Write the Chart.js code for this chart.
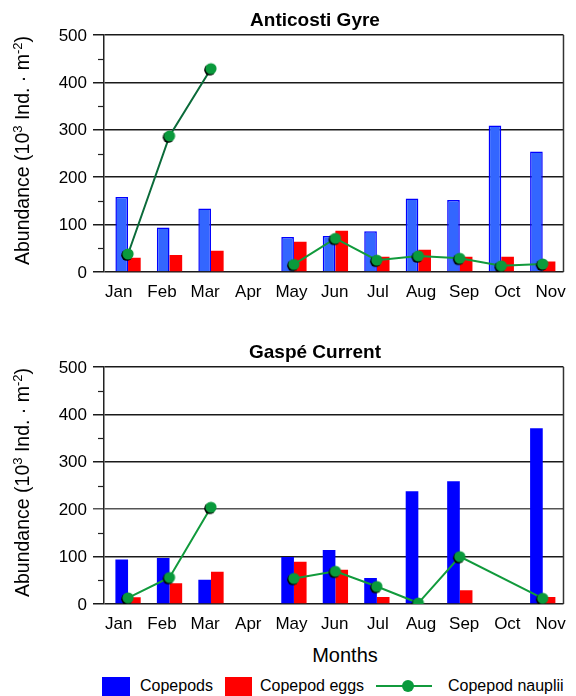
<!DOCTYPE html>
<html>
<head>
<meta charset="utf-8">
<script src="https://cdn.jsdelivr.net/npm/chart.js@4.4.1/dist/chart.umd.min.js"></script>
<style>
  html, body { margin: 0; padding: 0; background: #fff; }
  body { width: 576px; height: 696px; position: relative; overflow: hidden; font-family: 'Liberation Sans', Arial, sans-serif; color: #000; }
  canvas { position: absolute; left: 0; }
  .t { position: absolute; white-space: nowrap; text-align: center; }
  .title { font-weight: bold; font-size: 19px; line-height: 24px; width: 300px; }
  .leg { position: absolute; font-size: 16px; line-height: 20px; white-space: nowrap; }
  .box { position: absolute; }
</style>
</head>
<body>
<canvas id="c1" width="576" height="310" style="top:0px"></canvas>
<canvas id="c2" width="576" height="310" style="top:332px"></canvas>
<div class="t title" style="left:165px; top:8px;">Anticosti Gyre</div>
<div class="t title" style="left:165px; top:340px;">Gaspé Current</div>
<div class="t" style="left:245px; width:200px; top:643px; font-size:20px; line-height:24px;">Months</div>

<div class="box" style="left:102px; top:677px; width:28px; height:19px; background:#0000ff;"></div>
<div class="leg" style="left:140px; top:676px;">Copepods</div>
<div class="box" style="left:225px; top:677px; width:27px; height:19px; background:#ff0000;"></div>
<div class="leg" style="left:260px; top:676px;">Copepod eggs</div>
<svg style="position:absolute; left:370px; top:676px;" width="70" height="20">
  <line x1="6" y1="10" x2="62" y2="10" stroke="#119a3c" stroke-width="2"/>
  <circle cx="38" cy="10" r="6" fill="#0a9a3c"/>
</svg>
<div class="leg" style="left:448px; top:676px;">Copepod nauplii</div>

<script>
// ---------------- data ----------------
const months = ['Jan', 'Feb', 'Mar', 'Apr', 'May', 'Jun', 'Jul', 'Aug', 'Sep', 'Oct', 'Nov'];

const gyreCopepods = [158, 94, 134, null, 74, 76, 86, 155, 152, 309, 254];
const gyreEggs     = [30, 36, 45, null, 64, 87, 32, 47, 32, 32, 22];
const gyreNauplii  = [38, 287, 429, null, 16, 71, 25, 34, 29, 13, 17];

const gaspeCopepods = [94, 97, 51, null, 99, 114, 55, 238, 259, null, 371];
const gaspeEggs     = [14, 44, 68, null, 89, 72, 15, null, 29, null, 15];
const gaspeNauplii  = [13, 56, 204, null, 54, 69, 37, 2, 100, null, 12];
// months without a sample where the nauplii line is drawn straight across
const gaspeNaupliiJoined = ['Oct'];

const yTicks = [0, 100, 200, 300, 400, 500];

// ---------------- styling ----------------
Chart.defaults.font.family = "'Liberation Sans', Arial, sans-serif";
Chart.defaults.color = '#000';

function markerImage() {
  const c = document.createElement('canvas');
  c.width = 18; c.height = 18;
  const g = c.getContext('2d');
  g.fillStyle = '#000';
  g.beginPath(); g.arc(7.8, 10.2, 5.6, 0, Math.PI * 2); g.fill();
  g.fillStyle = '#0a9a3c';
  g.beginPath(); g.arc(9, 9, 5.6, 0, Math.PI * 2); g.fill();
  return c;
}
const marker = markerImage();

const decor = {
  id: 'decor',
  afterDraw(chart) {
    const ctx = chart.ctx;
    const a = chart.chartArea;
    const y = chart.scales.y;
    ctx.save();
    // minor ticks
    ctx.strokeStyle = '#222';
    ctx.lineWidth = 1.2;
    for (let i = 0; i < yTicks.length - 1; i++) {
      const v = (yTicks[i] + yTicks[i + 1]) / 2;
      const py = Math.round(y.getPixelForValue(v)) + 0.5;
      ctx.beginPath(); ctx.moveTo(a.left - 6, py); ctx.lineTo(a.left, py); ctx.stroke();
    }
    // right frame
    ctx.strokeStyle = '#333';
    ctx.lineWidth = 1.5;
    ctx.beginPath(); ctx.moveTo(a.right, a.top); ctx.lineTo(a.right, a.bottom); ctx.stroke();
    // y title with superscripts
    const fs = 19.5, ss = 13;
    const parts = [
      ['Abundance (10', fs, 0], ['3', ss, -7.5], [' Ind. \u00b7 m', fs, 0], ['-2', ss, -7.5], [')', fs, 0]
    ];
    let total = 0;
    parts.forEach(p => { ctx.font = p[1] + "px 'Liberation Sans', Arial"; p.push(ctx.measureText(p[0]).width); total += p[3]; });
    ctx.translate(22, (a.top + a.bottom) / 2 - 3);
    ctx.rotate(-Math.PI / 2);
    ctx.fillStyle = '#000';
    ctx.textBaseline = 'alphabetic';
    let x = -total / 2;
    parts.forEach(p => {
      ctx.font = p[1] + "px 'Liberation Sans', Arial";
      ctx.fillText(p[0], x, 7 + p[2]);
      x += p[3];
    });
    ctx.restore();
  }
};

function makeChart(id, copepods, eggs, nauplii, opts) {
  const pts = arr => arr.map((v, i) => ({ x: i, y: v }));
  let linePts = pts(nauplii);
  if (opts.joined) linePts = linePts.filter(p => !(p.y === null && opts.joined.includes(months[p.x])));
  return new Chart(document.getElementById(id), {
    type: 'bar',
    data: {
      datasets: [
        {
          type: 'line', label: 'Copepod nauplii', data: linePts, order: 0,
          borderColor: '#119a3c', borderWidth: 2, spanGaps: false,
          pointStyle: marker, pointRadius: 6, pointHoverRadius: 6,
          segment: opts.segment ? { borderColor: opts.segment } : undefined
        },
        {
          label: 'Copepods', data: pts(copepods), order: 1,
          backgroundColor: opts.blueFill, borderColor: '#0000ff', borderWidth: opts.blueBorder,
          borderSkipped: 'bottom', categoryPercentage: 0.61, barPercentage: 1
        },
        {
          label: 'Copepod eggs', data: pts(eggs), order: 2,
          backgroundColor: '#ff0000', borderWidth: 0,
          categoryPercentage: 0.61, barPercentage: 1
        }
      ]
    },
    options: {
      responsive: false,
      animation: false,
      devicePixelRatio: 1,
      layout: { padding: { top: 35, right: 5, left: 0, bottom: 0 } },
      plugins: { legend: { display: false }, tooltip: { enabled: false }, title: { display: false } },
      scales: {
        x: {
          type: 'linear', display: false, offset: false, min: -0.58, max: 10.5
        },
        xl: {
          type: 'linear', position: 'bottom', offset: false, min: -0.342, max: 10.30,
          afterBuildTicks: s => { s.ticks = months.map((m, i) => ({ value: i })); },
          afterFit: s => { s.height = 38; },
          grid: { display: false, drawTicks: false },
          border: { display: false },
          ticks: { callback: v => months[v], font: { size: 17 }, padding: 10, maxRotation: 0, autoSkip: false }
        },
        y: {
          min: 0, max: 500,
          afterBuildTicks: s => { s.ticks = yTicks.map(v => ({ value: v })); },
          afterFit: s => { s.width = 104; },
          grid: {
            color: ctx => (opts.grey200 && ctx.tick && ctx.tick.value === 200) ? '#555' : '#1a1a1a',
            lineWidth: 1.5, tickLength: 11, drawTicks: true
          },
          border: { display: true, color: '#222', width: 1.5 },
          ticks: { font: { size: 17 }, padding: 6, labelOffset: 1 }
        }
      }
    },
    plugins: [decor]
  });
}

makeChart('c1', gyreCopepods, gyreEggs, gyreNauplii, {
  blueFill: '#3366ff', blueBorder: 1.5,
  segment: ctx => ctx.p0DataIndex < 2 ? '#0b6b3a' : '#119a3c'
});
makeChart('c2', gaspeCopepods, gaspeEggs, gaspeNauplii, {
  blueFill: '#0000ff', blueBorder: 0, joined: gaspeNaupliiJoined, grey200: true
});
</script>
</body>
</html>
